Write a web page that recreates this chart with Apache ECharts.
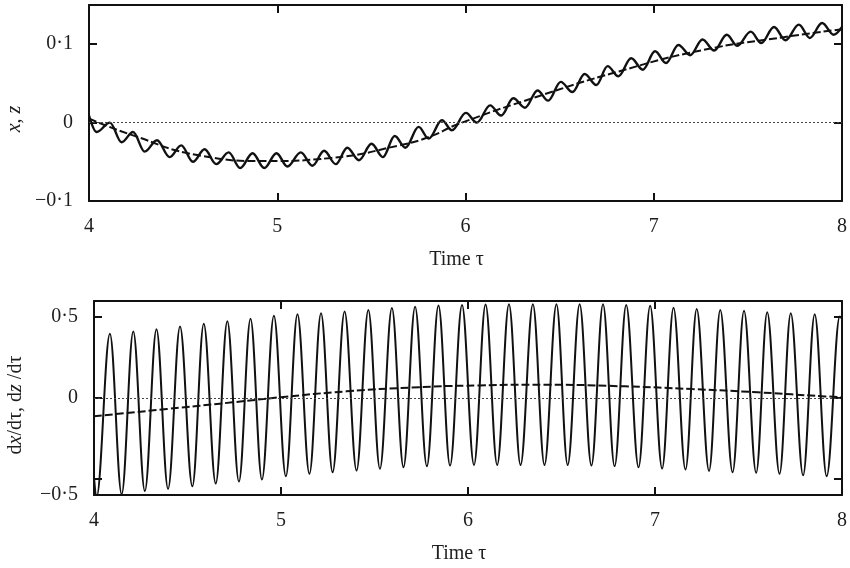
<!DOCTYPE html>
<html>
<head>
<meta charset="utf-8">
<script src="https://cdn.jsdelivr.net/npm/echarts@6/dist/echarts.min.js"></script>
<style>
  html, body { margin: 0; padding: 0; background: #fff; }
  #chart { width: 850px; height: 568px; }
</style>
</head>
<body>
<div id="chart"></div>
<script>
// ---- Data ----
// Top panel: x (solid, oscillating) - extrema
const xTau = [4.000, 4.041, 4.111, 4.173, 4.234, 4.296, 4.361, 4.429, 4.490, 4.552, 4.614, 4.676, 4.742, 4.803, 4.869, 4.931, 4.996, 5.054, 5.125, 5.187, 5.249, 5.311, 5.372, 5.434, 5.501, 5.561, 5.624, 5.681, 5.751, 5.804, 5.875, 5.928, 6.002, 6.060, 6.131, 6.189, 6.254, 6.316, 6.383, 6.439, 6.506, 6.568, 6.633, 6.695, 6.755, 6.812, 6.880, 6.942, 7.007, 7.065, 7.131, 7.194, 7.259, 7.321, 7.388, 7.444, 7.515, 7.571, 7.639, 7.700, 7.771, 7.829, 7.894, 7.956, 8.000];
const xVal = [0.009, -0.012, 0.000, -0.025, -0.012, -0.037, -0.0225, -0.044, -0.029, -0.050, -0.034, -0.053, -0.038, -0.058, -0.039, -0.058, -0.039, -0.056, -0.038, -0.055, -0.036, -0.053, -0.032, -0.048, -0.027, -0.044, -0.017, -0.032, -0.0055, -0.0204, 0.003, -0.0098, 0.0124, 0.000, 0.022, 0.009, 0.031, 0.019, 0.041, 0.028, 0.052, 0.039, 0.062, 0.048, 0.072, 0.059, 0.082, 0.0675, 0.091, 0.076, 0.099, 0.086, 0.106, 0.092, 0.112, 0.098, 0.116, 0.1015, 0.122, 0.105, 0.125, 0.108, 0.127, 0.112, 0.122];
// Top panel: z (dashed)
const zTau = [4.0, 4.23, 4.59, 4.94, 5.29, 5.65, 5.81, 5.96, 6.38, 6.81, 7.25, 7.69, 8.0];
const zVal = [0.005, -0.016, -0.042, -0.049, -0.045, -0.029, -0.018, -0.002, 0.033, 0.065, 0.092, 0.109, 0.119];
// Bottom panel: dx/dtau (solid, oscillating) - extrema
const dxTau = [4.000, 4.014, 4.085, 4.148, 4.210, 4.272, 4.334, 4.396, 4.460, 4.526, 4.587, 4.651, 4.713, 4.775, 4.837, 4.898, 4.962, 5.026, 5.088, 5.152, 5.214, 5.276, 5.340, 5.404, 5.467, 5.529, 5.593, 5.655, 5.717, 5.780, 5.842, 5.904, 5.968, 6.032, 6.094, 6.156, 6.219, 6.281, 6.347, 6.409, 6.473, 6.533, 6.597, 6.660, 6.722, 6.784, 6.846, 6.912, 6.974, 7.038, 7.099, 7.163, 7.223, 7.289, 7.349, 7.415, 7.476, 7.541, 7.600, 7.666, 7.726, 7.792, 7.854, 7.918, 7.988, 8.000];
const dxVal = [-0.49, -0.61, 0.397, -0.595, 0.411, -0.576, 0.426, -0.562, 0.442, -0.546, 0.459, -0.529, 0.475, -0.517, 0.490, -0.504, 0.508, -0.484, 0.518, -0.469, 0.525, -0.459, 0.535, -0.449, 0.545, -0.438, 0.556, -0.428, 0.565, -0.422, 0.572, -0.418, 0.576, -0.414, 0.578, -0.414, 0.580, -0.414, 0.580, -0.414, 0.580, -0.414, 0.580, -0.418, 0.580, -0.422, 0.576, -0.428, 0.570, -0.436, 0.559, -0.443, 0.551, -0.451, 0.545, -0.459, 0.539, -0.463, 0.531, -0.469, 0.525, -0.478, 0.518, -0.484, 0.504, 0.49];
// Bottom panel: dz/dtau (dashed)
const dzTau = [4.0, 4.39, 4.74, 5.0, 5.35, 5.70, 6.06, 6.41, 6.84, 7.20, 7.55, 7.91, 8.0];
const dzVal = [-0.113, -0.068, -0.027, 0.005, 0.041, 0.065, 0.078, 0.082, 0.072, 0.055, 0.035, 0.010, 0.005];

// Axis ticks and labels
const timeTicks = [4, 5, 6, 7, 8];
const topTicks = [-0.1, 0, 0.1];
const topTickLabels = ['\u22120\u00b71', '0', '0\u00b71'];
const botTicks = [-0.5, 0, 0.5];
const botTickLabels = ['\u22120\u00b75', '0', '0\u00b75'];
const xAxisTitle = 'Time \u03c4';

// ---- Build chart ----
function zip(a, b) {
  const n = Math.min(a.length, b.length);
  const out = [];
  for (let i = 0; i < n; i++) out.push([a[i], b[i]]);
  return out;
}
function labelFor(ticks, labels) {
  return function (v) {
    for (let i = 0; i < ticks.length; i++) {
      if (Math.abs(v - ticks[i]) < 1e-9) return labels[i];
    }
    return '';
  };
}

const FONT = '"Liberation Serif", "DejaVu Serif", serif';
const TXT = '#1e1e1e';
const FRAME = { show: true, onZero: false, lineStyle: { color: '#111', width: 2 } };
const TICK = { show: true, inside: true, length: 8, lineStyle: { color: '#111', width: 2 } };

function timeAxis(grid, pos, withLabels) {
  return {
    type: 'value', gridIndex: grid, position: pos, min: 4, max: 8, interval: 1,
    axisLine: FRAME,
    axisTick: Object.assign({}, TICK, { customValues: timeTicks }),
    axisLabel: withLabels ? {
      show: true, margin: 16, fontSize: 20, fontFamily: FONT, color: TXT,
      customValues: timeTicks, formatter: function (v) { return String(v); }
    } : { show: false },
    splitLine: { show: false },
    name: withLabels ? xAxisTitle : '',
    nameLocation: 'middle',
    nameGap: 49,
    nameTextStyle: { fontSize: 20, fontFamily: FONT, color: TXT, padding: [0, 18, 0, 0] }
  };
}
function valueAxis(grid, pos, min, max, ticks, labels, withLabels, rich) {
  return {
    type: 'value', gridIndex: grid, position: pos, min: min, max: max,
    axisLine: FRAME,
    axisTick: Object.assign({}, TICK, { customValues: ticks }),
    axisLabel: withLabels ? {
      show: true, margin: 16, fontSize: 20, fontFamily: FONT, color: TXT,
      customValues: ticks, formatter: rich ? rich.formatter : labelFor(ticks, labels),
      rich: rich ? rich.styles : undefined
    } : { show: false },
    splitLine: { show: false }
  };
}

const botRich = {
  formatter: function (v) {
    const s = labelFor(botTicks, botTickLabels)(v);
    if (Math.abs(v - botTicks[0]) < 1e-9) return '{low|' + s + '}';
    return s;
  },
  styles: { low: { fontSize: 20, fontFamily: FONT, color: TXT, padding: [32, 0, 0, 0] } }
};

const zeroLine = {
  silent: true, symbol: 'none', label: { show: false },
  lineStyle: { color: '#444', width: 1, type: [2, 2] },
  data: [{ yAxis: 0 }]
};

const chart = echarts.init(document.getElementById('chart'), null, { renderer: 'canvas' });
chart.setOption({
  animation: false,
  backgroundColor: '#ffffff',
  grid: [
    { left: 89, top: 5, width: 756, height: 196 },
    { left: 94, top: 301, width: 750, height: 194 }
  ],
  xAxis: [
    timeAxis(0, 'bottom', true),
    timeAxis(0, 'top', false),
    timeAxis(1, 'bottom', true),
    timeAxis(1, 'top', false)
  ],
  yAxis: [
    valueAxis(0, 'left', -0.1, 0.15, topTicks, topTickLabels, true),
    valueAxis(0, 'right', -0.1, 0.15, topTicks, topTickLabels, false),
    valueAxis(1, 'left', -0.6, 0.6, botTicks, botTickLabels, true, botRich),
    valueAxis(1, 'right', -0.6, 0.6, botTicks, botTickLabels, false)
  ],
  graphic: [
    {
      type: 'text', x: 15, y: 119, rotation: Math.PI / 2,
      style: {
        text: '{i|x}, {i|z}', align: 'center', verticalAlign: 'middle',
        fontSize: 20, fontFamily: FONT, fill: TXT,
        rich: { i: { fontStyle: 'italic', fontSize: 20, fontFamily: FONT, fill: TXT } }
      }
    },
    {
      type: 'text', x: 16, y: 405, rotation: Math.PI / 2,
      style: {
        text: 'd{i|x}/d\u03c4, d{i|z} /d\u03c4', align: 'center', verticalAlign: 'middle',
        fontSize: 20, fontFamily: FONT, fill: TXT,
        rich: { i: { fontStyle: 'italic', fontSize: 20, fontFamily: FONT, fill: TXT } }
      }
    }
  ],
  series: [
    {
      name: 'x', type: 'line', xAxisIndex: 0, yAxisIndex: 0,
      data: zip(xTau, xVal), showSymbol: false, symbol: 'none',
      smooth: 0.36, smoothMonotone: 'x', clip: true,
      lineStyle: { color: '#111', width: 2.4 }, z: 3
    },
    {
      name: 'z', type: 'line', xAxisIndex: 0, yAxisIndex: 0,
      data: zip(zTau, zVal), showSymbol: false, symbol: 'none',
      smooth: 0.5, clip: true,
      lineStyle: { color: '#111', width: 2, type: [8, 3] }, z: 4,
      markLine: zeroLine
    },
    {
      name: 'dx/dτ', type: 'line', xAxisIndex: 2, yAxisIndex: 2,
      data: zip(dxTau, dxVal), showSymbol: false, symbol: 'none',
      smooth: 0.36, smoothMonotone: 'x', clip: true,
      lineStyle: { color: '#111', width: 2 }, z: 3
    },
    {
      name: 'dz/dτ', type: 'line', xAxisIndex: 2, yAxisIndex: 2,
      data: zip(dzTau, dzVal), showSymbol: false, symbol: 'none',
      smooth: 0.5, clip: true,
      lineStyle: { color: '#111', width: 2, type: [8, 3] }, z: 4,
      markLine: zeroLine
    }
  ]
});
</script>
</body>
</html>
